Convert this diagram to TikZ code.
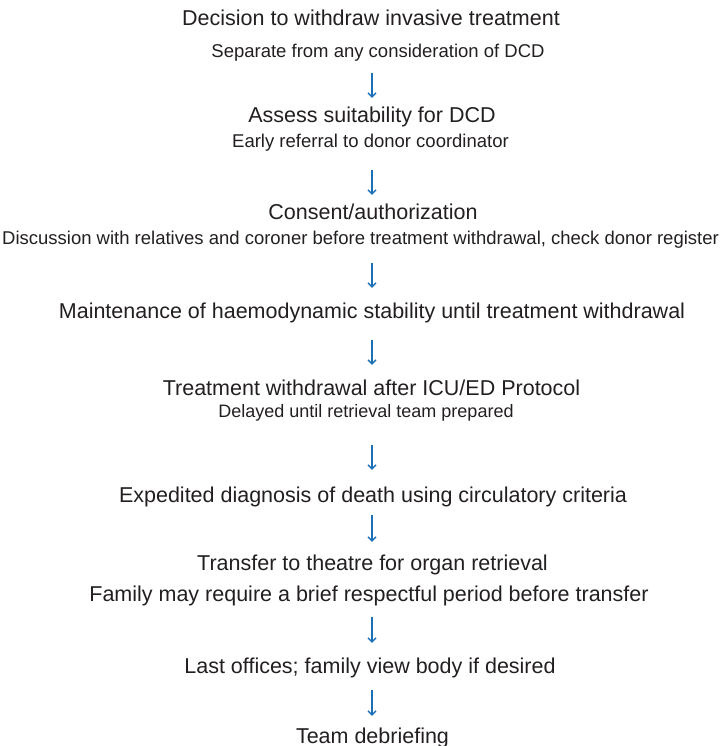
\documentclass[tikz,border=0pt]{standalone}
\usepackage{fontspec}
\setmainfont{Liberation Sans}
\usetikzlibrary{arrows.meta}

\definecolor{flowblue}{RGB}{28,112,184}
\definecolor{inkgrey}{RGB}{35,31,32}

\tikzset{
  stage/.style={anchor=base, inner sep=0pt, text=inkgrey, text depth=0pt, text height=15pt,
    font=\fontsize{21.5}{25}\selectfont},
  remark/.style={anchor=base, inner sep=0pt, text=inkgrey, text depth=0pt, text height=13pt,
    font=\fontsize{18.5}{22}\selectfont},
  flow/.style={flowblue, line width=1.3pt, -{Straight Barb[length=4pt,width=8pt]}}
}

\begin{document}
\begin{tikzpicture}[x=1pt, y=-1pt]
\useasboundingbox (0,0) rectangle (724,746);
\coordinate (axis) at (372,0);

% Steps
\node[stage] (decide) at (371,26) {Decision to withdraw invasive treatment};
\node[remark] (separate) at (378,58) {Separate from any consideration of DCD};

\node[stage] (assess) at (372,123) {Assess suitability for DCD};
\node[remark] (referral) at (370.5,148) {Early referral to donor coordinator};

\node[stage] (consent) at (373,219) {Consent/authorization};
\node[remark] (discuss) at (360.5,244) {Discussion with relatives and coroner before treatment withdrawal, check donor register};

\node[stage] (maintain) at (372,318) {Maintenance of haemodynamic stability until treatment withdrawal};

\node[stage] (withdraw) at (371.5,395) {Treatment withdrawal after ICU/ED Protocol};
\node[remark, font=\fontsize{18}{21}\selectfont, text height=12.5pt] (delay) at (366,417) {Delayed until retrieval team prepared};

\node[stage] (diagnose) at (373,502) {Expedited diagnosis of death using circulatory criteria};

\node[stage] (transfer) at (372.5,570) {Transfer to theatre for organ retrieval};
\node[stage] (pause) at (369,601) {Family may require a brief respectful period before transfer};

\node[stage] (offices) at (370,673) {Last offices; family view body if desired};

\node[stage] (debrief) at (372.5,743) {Team debriefing};

% Arrows
\draw[flow, shorten <=15pt, shorten >=10pt] (separate.south -| axis) -- (assess.north -| axis);
\draw[flow, shorten <=22pt, shorten >=9pt] (referral.south -| axis) -- (consent.north -| axis);
\draw[flow, shorten <=19pt, shorten >=15pt] (discuss.south -| axis) -- (maintain.north -| axis);
\draw[flow, shorten <=22pt, shorten >=15pt] (maintain.south -| axis) -- (withdraw.north -| axis);
\draw[flow, shorten <=28pt, shorten >=17pt] (delay.south -| axis) -- (diagnose.north -| axis);
\draw[flow, shorten <=13pt, shorten >=13pt] (diagnose.south -| axis) -- (transfer.north -| axis);
\draw[flow, shorten <=16pt, shorten >=15pt] (pause.south -| axis) -- (offices.north -| axis);
\draw[flow, shorten <=17pt, shorten >=12pt] (offices.south -| axis) -- (debrief.north -| axis);

\end{tikzpicture}
\end{document}
